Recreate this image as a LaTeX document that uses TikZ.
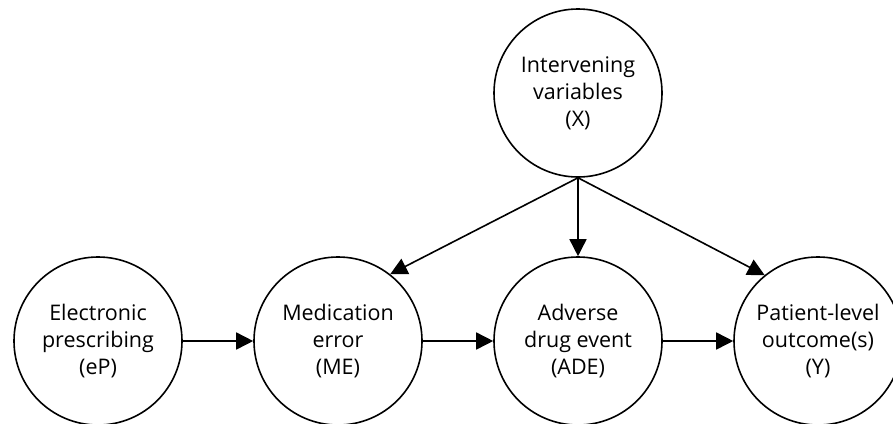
\documentclass[tikz,border=0pt]{standalone}
\usepackage{fontspec}
\setmainfont{Open Sans}
\usetikzlibrary{arrows.meta}
\tikzset{
  var/.style={circle, draw=black, line width=1.6pt, minimum size=168pt, inner sep=0pt,
    align=center, font=\fontsize{21.5}{27}\selectfont, text=black},
  conn/.style={line width=1.6pt, -{Triangle[length=17pt,width=17pt]}}
}
\begin{document}
\begin{tikzpicture}[x=1pt,y=-1pt]
\useasboundingbox (0,0) rectangle (893,423);
\node[var] (eP) at (98,341) {Electronic\\prescribing\\(eP)};
\node[var] (ME) at (338,341) {Medication\\error\\(ME)};
\node[var] (ADE) at (578,341) {Adverse\\drug event\\(ADE)};
\node[var] (Y) at (818,341) {Patient-level\\outcome(s)\\(Y)};
\node[var] (X) at (578,93) {Intervening\\variables\\(X)};
\draw[conn] (eP) -- (ME);
\draw[conn] (ME) -- (ADE);
\draw[conn] (ADE) -- (Y);
\draw[conn] (X.south) -- (ADE.north);
\draw[conn] (X.south) -- (ME.52);
\draw[conn] (X.south) -- (Y.129);
\end{tikzpicture}
\end{document}
